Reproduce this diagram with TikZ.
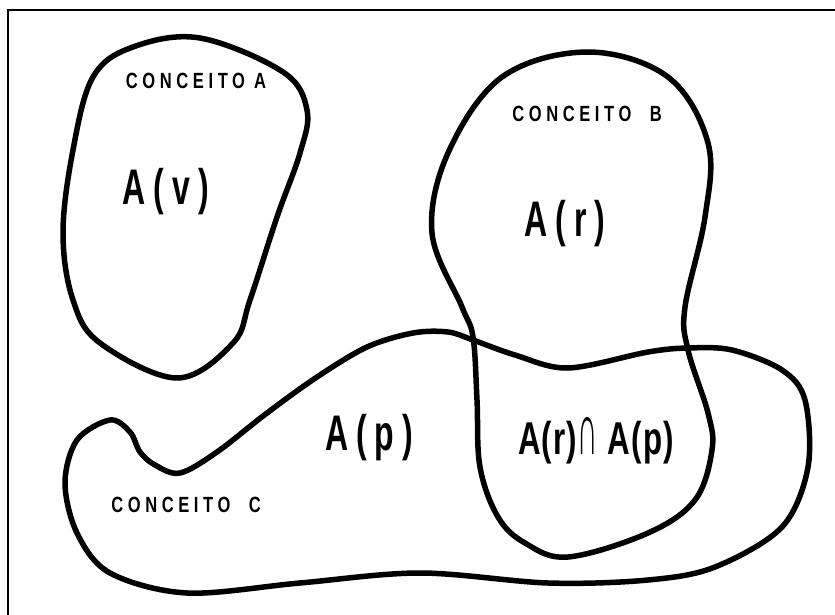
\documentclass[tikz,border=0pt]{standalone}
\usepackage{fontspec}
\setmainfont{Liberation Sans}
\begin{document}
\begin{tikzpicture}[x=1pt,y=-1pt,
    blob/.style={line width=5.5pt, line join=round},
    conc/.style={font=\fontsize{22}{24}\selectfont\bfseries\addfontfeature{LetterSpace=28}, xscale=0.75},
    setlbl/.style={font=\fontsize{50}{52}\selectfont\bfseries\addfontfeature{LetterSpace=25}, xscale=0.64},
    caplbl/.style={font=\fontsize{46}{48}\selectfont\bfseries\addfontfeature{LetterSpace=4}, xscale=0.68}]
    \useasboundingbox (0,0) rectangle (835,615);
    % Frame (only left and top edges show)
    \draw[line width=2.2pt] (8,615) -- (8,10) -- (835,10);
    % Concept A
    \draw[blob] plot[smooth cycle, tension=0.6] coordinates {
        (200,38) (283,72) (307,110) (300,153) (277,217) (250,300) (233,343)
        (177,378) (100,343) (73,300) (63,233) (73,150) (93,77) (133,47)};
    % Concept B
    \draw[blob] plot[smooth cycle, tension=0.6] coordinates {
        (588,52) (668,77) (708,143) (705,217) (685,307) (688,350) (708,413)
        (712,450) (695,500) (648,533) (568,557) (525,543) (498,517) (480,467)
        (477,400) (473,337) (462,307) (432,233) (448,153) (502,77)};
    % Concept C
    \draw[blob] plot[smooth cycle, tension=0.55] coordinates {
        (110,420) (130,432) (140,452) (155,465) (180,473) (217,452) (267,413)
        (317,377) (367,347) (413,333) (448,332) (473,340) (515,355) (568,368)
        (648,352) (688,348) (732,350) (782,370) (805,400) (808,467) (782,527)
        (715,567) (648,580) (548,583) (420,573) (300,583) (187,593) (110,573)
        (77,533) (65,483) (77,440)};
    % Labels
    \node[conc] (concA) at (196,81) {CONCEITO A};
    \node[conc] (concB) at (587,114) {CONCEITO\ \ B};
    \node[conc] (concC) at (186,505) {CONCEITO\ \ C};
    \node[setlbl] (av) at (166,192) {A(v)};
    \node[setlbl] (ar) at (565,224) {A(r)};
    \node[setlbl] (ap) at (369,438) {A(p)};
    \node[caplbl] (arp) at (596,441) {A(r)\scalebox{0.9}[1.6]{∩} A(p)};
\end{tikzpicture}
\end{document}
